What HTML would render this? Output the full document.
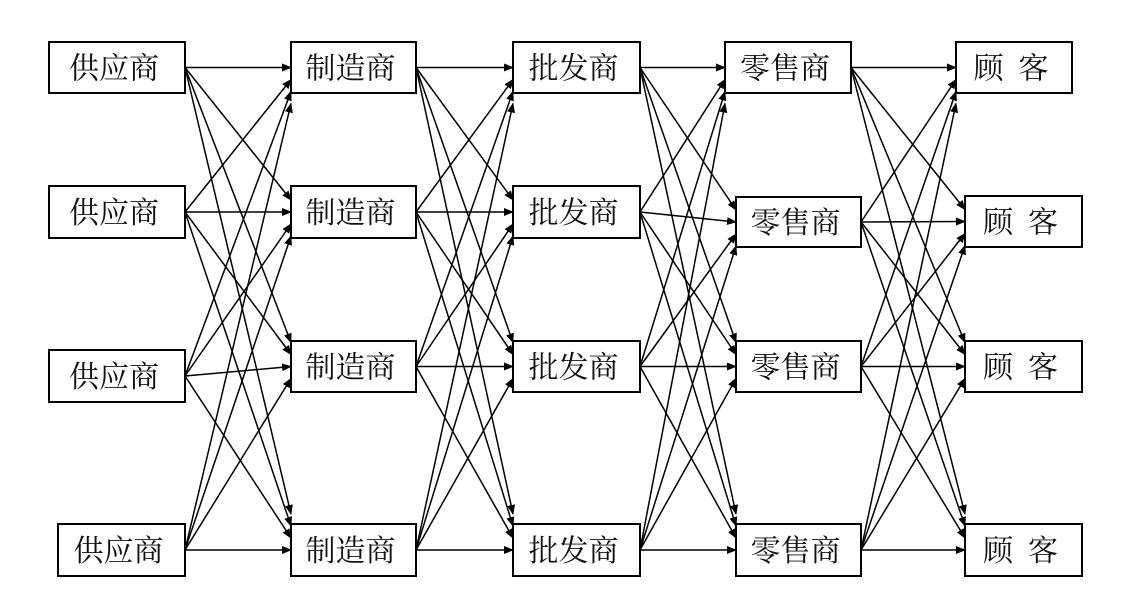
<!DOCTYPE html>
<html><head><meta charset="utf-8"><style>
html,body{margin:0;padding:0;background:#fff;}
svg{display:block}
text{font-family:"Liberation Serif","Noto Serif CJK SC","Noto Sans CJK SC",serif;font-size:30px;fill:#111;}
</style></head><body>
<svg id="s" width="1124" height="612" xmlns="http://www.w3.org/2000/svg">
<defs><marker id="a" markerWidth="10" markerHeight="8" refX="9" refY="4" orient="auto" markerUnits="userSpaceOnUse"><path d="M0,0 L10,4 L0,8 z" fill="#000"/></marker></defs>
<g id="lines" stroke="#000" stroke-width="1.5" fill="none"></g>
<g id="boxes"></g>
</svg>
<script>
const cols=[
 {l:"供应商",b:[[49,42,185,93],[49,186,185,238],[49,350,185,402],[58,524,185,576]]},
 {l:"制造商",b:[[291,42,416,93],[291,186,416,238],[291,341,416,392],[291,524,416,576]]},
 {l:"批发商",b:[[513,42,640,93],[513,186,640,238],[513,341,640,392],[513,524,640,576]]},
 {l:"零售商",b:[[725,42,851,93],[736,197,861,247],[736,341,861,392],[736,524,861,576]]},
 {l:"顾  客",b:[[956,42,1072,93],[965,196,1082,247],[965,341,1082,392],[965,524,1082,576]]}
];
const NS="http://www.w3.org/2000/svg";
const L=document.getElementById("lines"),B=document.getElementById("boxes");
for(let c=0;c<4;c++){
 for(let i=0;i<4;i++){
  const s=cols[c].b[i];const sx=s[2],sy=(s[1]+s[3])/2;
  for(let j=0;j<4;j++){
   const t=cols[c+1].b[j];const ty=(t[1]+t[3])/2+(i-j)*12;
   const ln=document.createElementNS(NS,"line");
   ln.setAttribute("x1",sx);ln.setAttribute("y1",sy);
   ln.setAttribute("x2",t[0]);ln.setAttribute("y2",ty);
   ln.setAttribute("marker-end","url(#a)");L.appendChild(ln);
  }
 }
}
for(const c of cols){for(const b of c.b){
 const r=document.createElementNS(NS,"rect");
 r.setAttribute("x",b[0]);r.setAttribute("y",b[1]);r.setAttribute("width",b[2]-b[0]);r.setAttribute("height",b[3]-b[1]);
 r.setAttribute("fill","#fff");r.setAttribute("stroke","#000");r.setAttribute("stroke-width","2");B.appendChild(r);
 const t=document.createElementNS(NS,"text");
 t.setAttribute("x",(b[0]+b[2])/2-3);t.setAttribute("y",(b[1]+b[3])/2+11);t.setAttribute("text-anchor","middle");
 t.setAttribute("xml:space","preserve");t.style.whiteSpace="pre";
 t.textContent=c.l;B.appendChild(t);
}}
</script>
</body></html>
